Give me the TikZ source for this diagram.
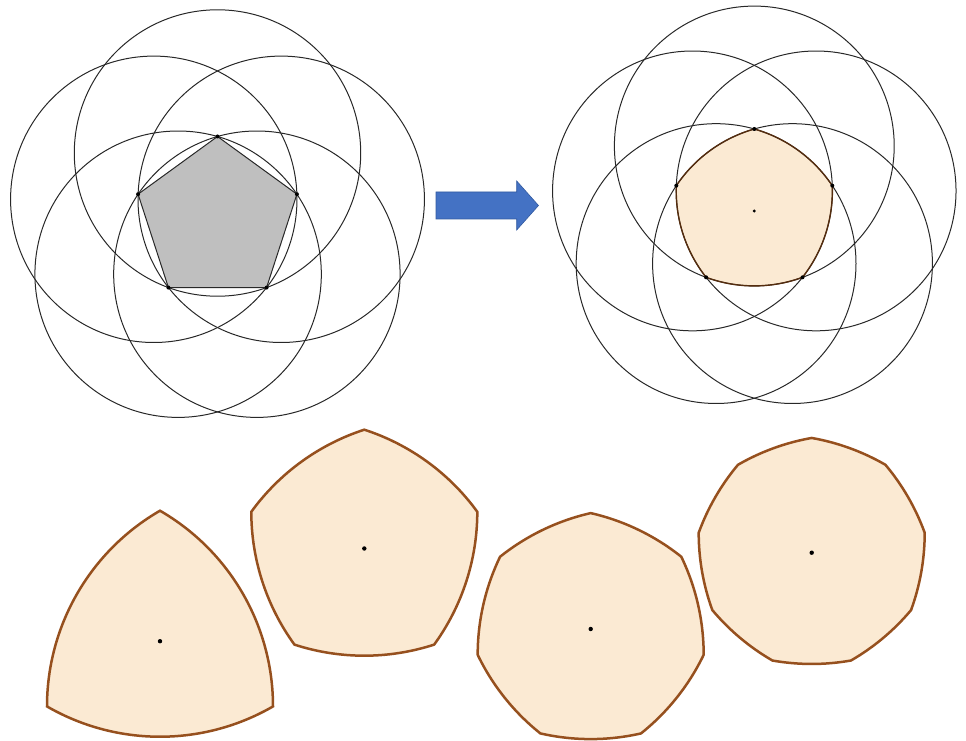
\documentclass[tikz,border=0pt]{standalone}
\usetikzlibrary{calc}
\definecolor{peach}{RGB}{251,234,211}
\definecolor{brownline}{RGB}{150,80,30}
\definecolor{darkbrown}{RGB}{85,45,15}
\definecolor{circgray}{RGB}{40,40,40}
\definecolor{pentgray}{RGB}{191,191,191}
\definecolor{arrowblue}{RGB}{68,114,196}
\definecolor{arrowedge}{RGB}{50,90,160}
\begin{document}
\begin{tikzpicture}[x=1pt,y=1pt,
  circ/.style={draw=circgray,line width=1pt},
  pentshape/.style={fill=pentgray,draw=circgray,line width=1pt},
  reulbig/.style={fill=peach,draw=brownline,line width=2.5pt,line join=miter},
  vdot/.style={fill=black},
  blockarrow/.style={fill=arrowblue,draw=arrowedge,line width=0.6pt}]
\useasboundingbox (0,0) rectangle (966,740);

% ---------- left figure: pentagon and five circles ----------
\coordinate (O1) at (217.5,520);
\def\Ra{83.5}
\def\rhoa{67}
\def\ra{143.2}
\path[pentshape] ($(O1)+(90:\Ra)$) -- ($(O1)+(162:\Ra)$) -- ($(O1)+(234:\Ra)$)
  -- ($(O1)+(306:\Ra)$) -- ($(O1)+(18:\Ra)$) -- cycle;
\foreach \k in {0,...,4}{
  \draw[circ] ($(O1)+({90+72*\k}:\rhoa)$) circle[radius=\ra];
}
\foreach \k in {0,...,4}{
  \fill[vdot] ($(O1)+({90+72*\k}:\Ra)$) circle[radius=2];
}

% ---------- arrow ----------
\coordinate (A0) at (436,534.5);
\path[blockarrow] (A0) ++(0,-13.5) -- ++(80.7,0) -- ++(0,-11) -- (538.5,534.5)
  -- (516.7,559) -- ++(0,-11) -- (436,548) -- cycle;

% ---------- right figure: Reuleaux pentagon and circles ----------
\coordinate (O2) at (754.3,529);
\def\Rb{82}
\def\rhob{65}
\def\rb{139.9}
\def\bb{20.15}
\path[fill=peach] ($(O2)+(234:\Rb)$)
  \foreach \k in {0,...,4}{ arc[start angle={270-\bb+72*\k}, end angle={270+\bb+72*\k}, radius=\rb] } -- cycle;
\foreach \k in {0,...,4}{
  \draw[circ] ($(O2)+({90+72*\k}:\rhob)$) circle[radius=\rb];
}
\draw[darkbrown,line width=1.4pt] ($(O2)+(234:\Rb)$)
  \foreach \k in {0,...,4}{ arc[start angle={270-\bb+72*\k}, end angle={270+\bb+72*\k}, radius=\rb] } -- cycle;
\foreach \k in {0,...,4}{
  \fill[vdot] ($(O2)+({90+72*\k}:\Rb)$) circle[radius=2];
}
\fill[vdot] (O2) circle[radius=1.6];

% ---------- bottom: Reuleaux polygons of equal width ----------
\def\W{226}
\foreach \n/\cx/\cy in {3/160/98.8, 5/364.3/191.5, 7/590.7/111, 9/811.7/187.3}{
  \pgfmathsetmacro\Rn{\W/(2*cos(90/\n))}
  \pgfmathsetmacro\m{(\n-1)/2}
  \pgfmathsetmacro\sa{90+360*\m/\n}
  \pgfmathtruncatemacro\last{\n-1}
  \coordinate (C\n) at (\cx,\cy);
  \path[reulbig] ($(C\n)+(\sa:\Rn)$)
    \foreach \k in {0,...,\last}{ arc[start angle={270-90/\n+360*\k/\n}, end angle={270+90/\n+360*\k/\n}, radius=\W] } -- cycle;
  \fill[vdot] (C\n) circle[radius=2.2];
}
\end{tikzpicture}
\end{document}
